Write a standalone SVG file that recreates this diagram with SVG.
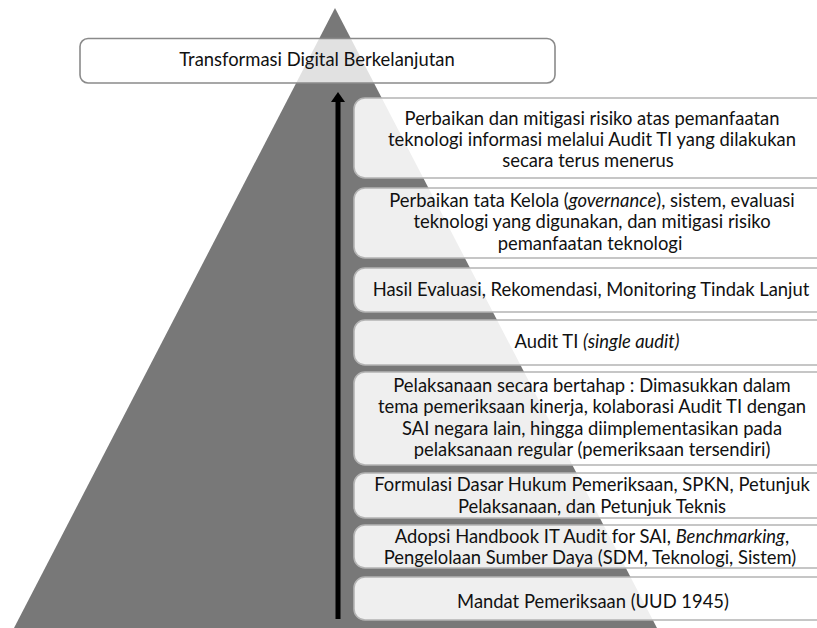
<svg xmlns="http://www.w3.org/2000/svg" width="817" height="628" viewBox="0 0 817 628">
<style>
.t{font-family:Lato,"Carlito","Liberation Sans",sans-serif;font-size:18.4px;fill:#111111;text-anchor:middle;font-variant-ligatures:none}
.box{fill:#ffffff;fill-opacity:0.88;stroke:#b4b4b4;stroke-width:1.6}
.top{fill:#ffffff;fill-opacity:0.78;stroke:#8a8a8a;stroke-width:1.6}
.i{font-style:italic}
</style>
<rect width="817" height="628" fill="#ffffff"/>
<polygon id="pyramid" points="335,8 14,628 657,628" fill="#787878"/>
<g id="connectors">
<line x1="338" y1="619" x2="338" y2="100" stroke="#000" stroke-width="5"/>
<polygon points="338,92 331,102 345,102" fill="#000"/>
</g>
<g id="n0">
<rect class="top" x="80" y="38.5" width="475" height="44.5" rx="8"/>
<text class="t" x="317" y="66">Transformasi Digital Berkelanjutan</text>
</g>
<g id="n1">
<rect class="box" x="354" y="98" width="480" height="80" rx="11"/>
<text class="t" x="592" y="125">Perbaikan dan mitigasi risiko atas pemanfaatan</text>
<text class="t" x="592" y="146">teknologi informasi melalui Audit TI yang dilakukan</text>
<text class="t" x="588" y="167">secara terus menerus</text>
</g>
<g id="n2">
<rect class="box" x="354" y="188" width="480" height="70" rx="11"/>
<text class="t" x="592" y="207">Perbaikan tata Kelola (<tspan class="i">governance</tspan>), sistem, evaluasi</text>
<text class="t" x="592" y="228">teknologi yang digunakan, dan mitigasi risiko</text>
<text class="t" x="590" y="250">pemanfaatan teknologi</text>
</g>
<g id="n3">
<rect class="box" x="354" y="268" width="480" height="44" rx="11"/>
<text class="t" x="591" y="296">Hasil Evaluasi, Rekomendasi, Monitoring Tindak Lanjut</text>
</g>
<g id="n4">
<rect class="box" x="354" y="320" width="480" height="45" rx="11"/>
<text class="t" x="597" y="348">Audit TI <tspan class="i">(single audit)</tspan></text>
</g>
<g id="n5">
<rect class="box" x="354" y="372" width="480" height="93" rx="11"/>
<text class="t" x="592" y="392">Pelaksanaan secara bertahap : Dimasukkan dalam</text>
<text class="t" x="592" y="413">tema pemeriksaan kinerja, kolaborasi Audit TI dengan</text>
<text class="t" x="592" y="435">SAI negara lain, hingga diimplementasikan pada</text>
<text class="t" x="592" y="456">pelaksanaan regular (pemeriksaan tersendiri)</text>
</g>
<g id="n6">
<rect class="box" x="354" y="473" width="480" height="45" rx="11"/>
<text class="t" x="592" y="491">Formulasi Dasar Hukum Pemeriksaan, SPKN, Petunjuk</text>
<text class="t" x="592" y="513">Pelaksanaan, dan Petunjuk Teknis</text>
</g>
<g id="n7">
<rect class="box" x="354" y="525" width="480" height="43" rx="11"/>
<text class="t" x="592" y="543">Adopsi Handbook IT Audit for SAI, <tspan class="i">Benchmarking</tspan>,</text>
<text class="t" x="590" y="564">Pengelolaan Sumber Daya (SDM, Teknologi, Sistem)</text>
</g>
<g id="n8">
<rect class="box" x="354" y="577" width="480" height="43" rx="11"/>
<text class="t" x="593" y="608">Mandat Pemeriksaan (UUD 1945)</text>
</g>
</svg>
